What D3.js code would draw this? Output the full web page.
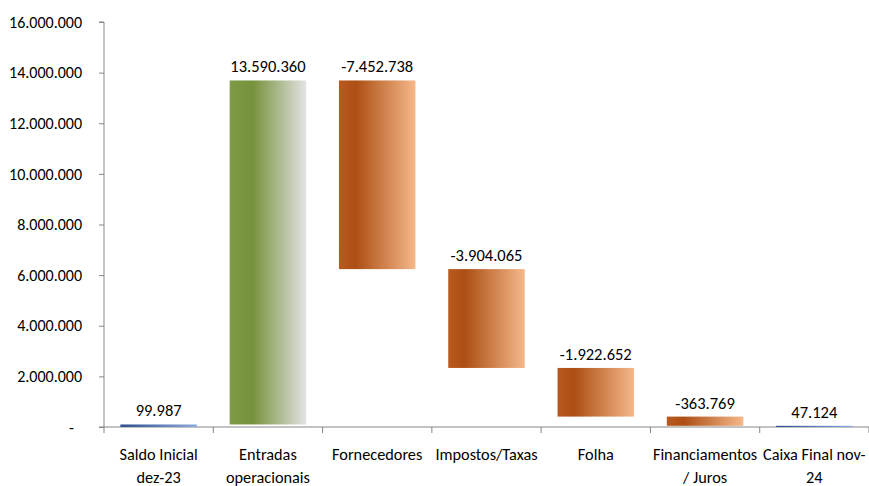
<!DOCTYPE html>
<html><head><meta charset="utf-8">
<script src="https://cdn.jsdelivr.net/npm/d3@7"></script>
<style>body{margin:0;background:#fff}text{font-family:Carlito,Lato,"Liberation Sans",sans-serif;fill:#000}</style>
</head><body><svg id="c" width="869" height="486"></svg>
<script>
const categories = [["Saldo Inicial","dez-23"],["Entradas","operacionais"],["Fornecedores"],["Impostos/Taxas"],["Folha"],["Financiamentos","/ Juros"],["Caixa Final nov-","24"]];
const values = [99987, 13590360, -7452738, -3904065, -1922652, -363769, 47124];
const kinds = ["total","up","down","down","down","down","total"];
const valueLabels = ["99.987","13.590.360","-7.452.738","-3.904.065","-1.922.652","-363.769","47.124"];
const yTicks = [0,2000000,4000000,6000000,8000000,10000000,12000000,14000000,16000000];

const svg = d3.select("#c");
const x0 = 104, x1 = 869, yTop = 22, yBot = 427;
const x = d3.scaleBand().domain(d3.range(categories.length)).range([x0, x1]).paddingInner(0.3).paddingOuter(0.15);
const y = d3.scaleLinear().domain([0,16000000]).range([yBot, yTop]);

const defs = svg.append("defs");
function grad(id, stops){
  const g = defs.append("linearGradient").attr("id",id).attr("x1","0").attr("x2","1").attr("y1","0").attr("y2","0");
  stops.forEach(s=>g.append("stop").attr("offset",s[0]).attr("stop-color",s[1]));
}
grad("gUp",[[0,"#7f9a45"],[0.3,"#76923c"],[1,"#e3e3e3"]]);
grad("gDown",[[0,"#b9591e"],[0.22,"#ad4f14"],[1,"#f5b88a"]]);
grad("gTot",[[0,"#2f4f8f"],[1,"#8eaade"]]);

let run = 0; const bars = [];
values.forEach((v,i)=>{
  let lo, hi;
  if(kinds[i]==="total"){ lo=0; hi=v; run=v; }
  else { const nr = run+v; lo=Math.min(run,nr); hi=Math.max(run,nr); run=nr; }
  bars.push({i,lo,hi});
});

const ya = svg.append("g").attr("transform",`translate(${x0},0)`)
  .call(d3.axisLeft(y).tickValues(yTicks).tickSize(5).tickPadding(17)
    .tickFormat(d=>d===0?"-":d3.format(",")(d).replace(/,/g,".")));
ya.select(".domain").attr("stroke","#868686").attr("d",`M-5,${yTop}H0V${yBot}`);
ya.selectAll(".tick line").attr("stroke","#868686");
ya.selectAll(".tick text").attr("font-size",16).attr("fill","#000");
ya.selectAll(".tick").filter(d=>d===0).select("text").attr("dx",-8);

const bw = x.step();
const xa = svg.append("g");
xa.append("line").attr("x1",x0-5).attr("x2",x1).attr("y1",yBot).attr("y2",yBot).attr("stroke","#868686");
d3.range(categories.length+1).forEach(k=>{
  const xx = x0 + k*bw;
  xa.append("line").attr("x1",xx).attr("x2",xx).attr("y1",yBot).attr("y2",yBot+6).attr("stroke","#868686");
});

svg.append("g").selectAll("rect").data(bars).join("rect")
  .attr("x",d=>x(d.i)).attr("width",x.bandwidth())
  .attr("y",d=>y(d.hi)).attr("height",d=>Math.max(1,y(d.lo)-y(d.hi)))
  .attr("fill",d=>kinds[d.i]==="total"?"url(#gTot)":kinds[d.i]==="up"?"url(#gUp)":"url(#gDown)");

svg.append("g").selectAll("text").data(bars).join("text")
  .attr("x",d=>x(d.i)+x.bandwidth()/2).attr("y",d=>y(d.hi)-8)
  .attr("text-anchor","middle").attr("font-size",16.5).text(d=>valueLabels[d.i]);

const cl = svg.append("g");
categories.forEach((c,i)=>{
  const t = cl.append("text").attr("x",x0+(i+0.5)*bw).attr("y",460).attr("text-anchor","middle").attr("font-size",16.3);
  c.forEach((line,j)=>t.append("tspan").attr("x",x0+(i+0.5)*bw).attr("dy",j?23:0).text(line));
});
</script></body></html>
